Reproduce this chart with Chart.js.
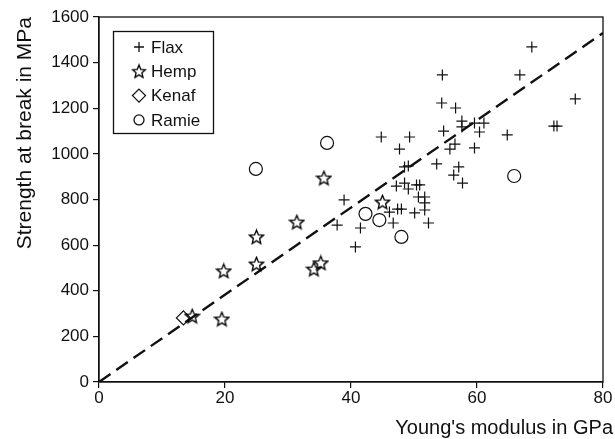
<!DOCTYPE html>
<html><head><meta charset="utf-8">
<script src="https://cdn.jsdelivr.net/npm/chart.js@4"></script>
<style>html,body{margin:0;padding:0;background:#fff}#wrap{width:615px;height:439px}</style>
</head><body><div id="wrap"><canvas id="c" width="615" height="439"></canvas></div>
<script>
const seriesNames = ['Flax', 'Hemp', 'Kenaf', 'Ramie'];
const flaxX = [68.7,66.8,54.5,54.4,56.6,57.6,57.6,59.6,61.1,54.7,60.4,64.8,75.6,72.2,72.7,44.8,49.3,47.7,56.5,55.7,59.6,48.5,49.1,53.6,57.1,56.3,57.7,47.2,48.5,49.1,50.4,50.9,38.9,50.7,51.7,51.7,51.7,46.1,47.4,48.0,50.1,46.7,52.3,37.8,41.5,40.7];
const flaxY = [1469,1346,1346,1223,1201,1144,1118,1135,1135,1100,1096,1083,1241,1122,1122,1074,1074,1021,1043,1021,1026,943,947,956,943,907,872,859,872,846,864,864,798,811,811,785,754,745,758,758,741,697,697,688,675,592];
const hempX = [45.0,35.7,31.4,25.0,25.0,19.8,35.2,34.1,14.8,19.5];
const hempY = [789,894,701,636,517,487,522,495,289,276];
const kenafX = [13.4];
const kenafY = [281];
const ramieX = [24.9,36.2,42.3,44.5,48.0,65.9];
const ramieY = [934,1048,737,710,636,903];
const trendX = [0, 80];
const trendY = [0, 1530];
const xTicks = [0, 20, 40, 60, 80];
const yTicks = [0, 200, 400, 600, 800, 1000, 1200, 1400, 1600];
const xTitle = "Young's modulus in GPa";
const yTitle = 'Strength at break in MPa';

const INK = '#111';
const FONT = '"Liberation Sans", Arial, Helvetica, sans-serif';

function pts(xs, ys) { return xs.map((x, i) => ({x: x, y: ys[i]})); }

function starPath(ctx, cx, cy, R, r) {
  ctx.beginPath();
  for (let i = 0; i < 10; i++) {
    const a = -Math.PI / 2 + i * Math.PI / 5;
    const rr = i % 2 === 0 ? R : r;
    const px = cx + rr * Math.cos(a), py = cy + rr * Math.sin(a);
    if (i === 0) ctx.moveTo(px, py); else ctx.lineTo(px, py);
  }
  ctx.closePath();
}
function makeStar(size) {
  const c = document.createElement('canvas');
  c.width = size; c.height = size;
  const g = c.getContext('2d');
  g.strokeStyle = '#000'; g.lineWidth = 1.35; g.lineJoin = 'miter';
  starPath(g, size / 2, size / 2 + 0.6, size / 2 - 1.2, (size / 2 - 1.2) * 0.45);
  g.stroke();
  return c;
}
const starImg = makeStar(17);
const starImgLegend = makeStar(16);

const markers = {
  Flax: {style: 'cross', r: 5.5},
  Hemp: {style: starImg, r: 8},
  Kenaf: {style: 'rectRot', r: 7},
  Ramie: {style: 'circle', r: 6.5}
};

function drawLegendMarker(ctx, name, x, y) {
  ctx.save();
  ctx.strokeStyle = INK; ctx.lineWidth = 1.3;
  if (name === 'Flax') {
    ctx.beginPath(); ctx.moveTo(x - 5, y); ctx.lineTo(x + 5, y); ctx.moveTo(x, y - 5); ctx.lineTo(x, y + 5); ctx.stroke();
  } else if (name === 'Hemp') {
    ctx.drawImage(starImgLegend, x - 8, y - 8);
  } else if (name === 'Kenaf') {
    ctx.beginPath(); ctx.moveTo(x, y - 6.5); ctx.lineTo(x + 6.5, y); ctx.lineTo(x, y + 6.5); ctx.lineTo(x - 6.5, y); ctx.closePath(); ctx.stroke();
  } else {
    ctx.beginPath(); ctx.arc(x, y, 5, 0, Math.PI * 2); ctx.stroke();
  }
  ctx.restore();
}

const framePlugin = {
  id: 'frame',
  afterDatasetsDraw(chart) {
    const a = chart.chartArea, ctx = chart.ctx;
    ctx.save();
    ctx.strokeStyle = INK; ctx.lineWidth = 1.3;
    ctx.strokeRect(a.left, a.top, a.right - a.left, a.bottom - a.top);
    ctx.restore();
  }
};
const xTitlePlugin = {
  id: 'xTitle',
  afterDraw(chart) {
    const ctx = chart.ctx;
    ctx.save();
    ctx.font = '20px ' + FONT;
    ctx.fillStyle = INK; ctx.textAlign = 'right'; ctx.textBaseline = 'middle';
    ctx.fillText(xTitle, 613, 428);
    ctx.restore();
  }
};
const legendPlugin = {
  id: 'boxLegend',
  afterDraw(chart) {
    const ctx = chart.ctx;
    ctx.save();
    ctx.fillStyle = '#fff';
    ctx.fillRect(113, 31, 100, 102);
    ctx.strokeStyle = INK; ctx.lineWidth = 1.3;
    ctx.strokeRect(113.5, 31.5, 100, 102);
    ctx.font = '17px ' + FONT;
    ctx.fillStyle = INK; ctx.textBaseline = 'middle'; ctx.textAlign = 'left';
    seriesNames.forEach((name, i) => {
      const y = 47 + i * 24.3;
      drawLegendMarker(ctx, name, 139, y);
      ctx.fillText(name, 151, y + 1);
    });
    ctx.restore();
  }
};

const seriesData = {Flax: [flaxX, flaxY], Hemp: [hempX, hempY], Kenaf: [kenafX, kenafY], Ramie: [ramieX, ramieY]};
const datasets = seriesNames.map(name => ({
  label: name,
  data: pts(seriesData[name][0], seriesData[name][1]),
  pointStyle: markers[name].style,
  pointRadius: markers[name].r,
  pointHoverRadius: markers[name].r,
  pointBorderColor: INK,
  pointBackgroundColor: 'rgba(0,0,0,0)',
  pointBorderWidth: 1.2,
  showLine: false
}));
datasets.push({
  label: 'trend',
  data: pts(trendX, trendY),
  showLine: true,
  borderColor: INK,
  borderWidth: 2.4,
  borderDash: [14, 7],
  pointRadius: 0,
  fill: false
});

new Chart(document.getElementById('c'), {
  type: 'scatter',
  data: {datasets: datasets},
  options: {
    responsive: false,
    devicePixelRatio: 1,
    animation: false,
    layout: {padding: {top: 17, right: 12, bottom: 0, left: 0}},
    plugins: {legend: {display: false}, tooltip: {enabled: false}},
    scales: {
      x: {
        type: 'linear', min: 0, max: 80,
        afterBuildTicks: s => { s.ticks = xTicks.map(v => ({value: v})); },
        afterFit: s => { s.height = 57; },
        ticks: {color: INK, font: {family: FONT, size: 17}, padding: 0, callback: v => String(v)},
        grid: {drawOnChartArea: false, drawTicks: true, tickLength: 6, color: INK, lineWidth: 1.2},
        border: {display: true, color: INK, width: 1.3},
        title: {display: false}
      },
      y: {
        type: 'linear', min: 0, max: 1600,
        afterBuildTicks: s => { s.ticks = yTicks.map(v => ({value: v})); },
        afterFit: s => { s.width = 99; },
        ticks: {color: INK, font: {family: FONT, size: 17}, padding: 4, callback: v => String(v)},
        grid: {drawOnChartArea: false, drawTicks: true, tickLength: 6, color: INK, lineWidth: 1.2},
        border: {display: true, color: INK, width: 1.3},
        title: {display: true, text: yTitle, align: 'end', color: INK, font: {family: FONT, size: 21}, padding: {top: 13, bottom: 0}}
      }
    }
  },
  plugins: [framePlugin, legendPlugin, xTitlePlugin]
});
</script>
</body></html>
